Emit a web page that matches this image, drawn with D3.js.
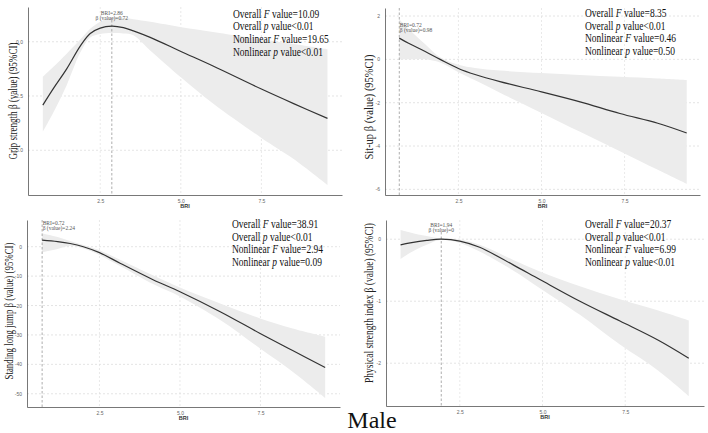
<!DOCTYPE html>
<html>
<head>
<meta charset="utf-8">
<script src="https://cdn.jsdelivr.net/npm/d3@7/dist/d3.min.js"></script>
<style>
  html, body { margin: 0; padding: 0; background: #fff; }
  svg { display: block; }
</style>
</head>
<body>
<svg id="chart" width="708" height="433"></svg>
<script>
// ---------------- DATA ----------------
const xTicks = [2.5, 5.0, 7.5];
const xTickLabels = ["2.5", "5.0", "7.5"];

// Panel 1: Grip strength
const gripBRI   = [0.72, 1.05, 1.46, 1.88, 2.19, 2.5, 2.86, 3.22, 3.53, 4.05, 5.02, 6.0, 7.5, 8.5, 9.55];
const gripFit   = [-2.92, -2.15, -1.25, -0.2, 0.38, 0.63, 0.72, 0.65, 0.5, 0.2, -0.46, -1.12, -2.18, -2.85, -3.53];
const gripUpper = [-1.61, -1.15, -0.55, 0.1, 0.6, 0.92, 1.13, 1.1, 1.04, 0.92, 0.67, 0.45, 0.11, -0.11, -0.35];
const gripLower = [-4.15, -3.25, -2.0, -0.5, 0.2, 0.36, 0.4, 0.38, 0.3, -0.4, -1.66, -2.85, -4.43, -5.4, -6.6];
const gripYTicks = [-5.0, -2.5, 0.0];
const gripYTickLabels = ["-5.0", "-2.5", "0.0"];
const gripStats = [["Overall ", "F", " value=10.09"], ["Overall ", "p", " value<0.01"], ["Nonlinear ", "F", " value=19.65"], ["Nonlinear ", "p", " value<0.01"]];
const gripRef = { bri: 2.86, beta: 0.72, label1: "BRI=2.86", label2: "β (value)=0.72" };

// Panel 2: Sit-up
const situpBRI   = [0.72, 1.0, 1.5, 1.95, 2.5, 3.0, 3.75, 5.0, 6.16, 7.36, 8.5, 9.37];
const situpFit   = [0.98, 0.74, 0.36, 0.0, -0.42, -0.7, -1.03, -1.5, -1.96, -2.5, -2.95, -3.4];
const situpUpper = [1.85, 1.4, 0.7, 0.1, -0.25, -0.4, -0.52, -0.63, -0.72, -0.8, -0.88, -0.95];
const situpLower = [0.0, 0.0, 0.0, -0.15, -0.6, -0.97, -1.54, -2.47, -3.34, -4.24, -5.1, -5.75];
const situpYTicks = [-6, -4, -2, 0, 2];
const situpYTickLabels = ["-6", "-4", "-2", "0", "2"];
const situpStats = [["Overall ", "F", " value=8.35"], ["Overall ", "p", " value<0.01"], ["Nonlinear ", "F", " value=0.46"], ["Nonlinear ", "p", " value=0.50"]];
const situpRef = { bri: 0.72, beta: 0.98, label1: "BRI=0.72", label2: "β (value)=0.98" };

// Panel 3: Standing long jump
const jumpBRI   = [0.72, 1.2, 1.59, 2.0, 2.5, 3.14, 4.18, 5.0, 6.25, 7.49, 8.5, 9.51];
const jumpFit   = [2.24, 1.75, 1.1, 0.0, -2.0, -5.6, -11.3, -15.3, -22.1, -29.5, -35.3, -41.1];
const jumpUpper = [4.5, 3.3, 1.94, 0.6, -1.2, -4.4, -9.8, -13.9, -19.3, -24.4, -27.8, -30.6];
const jumpLower = [-1.9, -0.8, 0.3, -0.6, -2.8, -6.6, -12.8, -16.9, -24.9, -34.6, -42.5, -51.4];
const jumpYTicks = [-50, -40, -30, -20, -10, 0];
const jumpYTickLabels = ["-50", "-40", "-30", "-20", "-10", "0"];
const jumpStats = [["Overall ", "F", " value=38.91"], ["Overall ", "p", " value<0.01"], ["Nonlinear ", "F", " value=2.94"], ["Nonlinear ", "p", " value=0.09"]];
const jumpRef = { bri: 0.72, beta: 2.24, label1: "BRI=0.72", label2: "β (value)=2.24" };

// Panel 4: Physical strength index
const psiBRI   = [0.71, 1.0, 1.5, 1.94, 2.5, 3.1, 4.1, 4.92, 6.13, 7.34, 8.5, 9.42];
const psiFit   = [-0.09, -0.06, -0.02, 0.0, -0.03, -0.13, -0.41, -0.65, -1.0, -1.32, -1.63, -1.92];
const psiUpper = [0.15, 0.11, 0.05, 0.01, -0.005, -0.09, -0.33, -0.52, -0.76, -0.97, -1.15, -1.31];
const psiLower = [-0.32, -0.22, -0.09, -0.01, -0.06, -0.2, -0.5, -0.79, -1.22, -1.7, -2.12, -2.53];
const psiYTicks = [-2, -1, 0];
const psiYTickLabels = ["-2", "-1", "0"];
const psiStats = [["Overall ", "F", " value=20.37"], ["Overall ", "p", " value<0.01"], ["Nonlinear ", "F", " value=6.99"], ["Nonlinear ", "p", " value<0.01"]];
const psiRef = { bri: 1.94, beta: 0, label1: "BRI=1.94", label2: "β (value)=0" };

const yTitles = ["Grip strength β (value) (95%CI)", "Sit-up β (value) (95%CI)", "Standing long jump β (value) (95%CI)", "Physical strength index β (value) (95%CI)"];
const xTitle = "BRI";
const caption = "Male";

// ---------------- LAYOUT ----------------
const panels = [
  { bri: gripBRI, fit: gripFit, up: gripUpper, lo: gripLower, yt: gripYTicks, ytl: gripYTickLabels, stats: gripStats, ref: gripRef, title: yTitles[0],
    L: 28, R: 342, T: 7, B: 195, xd: [0.26, 10.0], yd: [-7.06, 1.6], statX: 233, statY: 17.5, titleX: 17, titleY: 101, titleLen: 117, refAnchor: "middle", refY: 14.5, refTop: 20 },
  { bri: situpBRI, fit: situpFit, up: situpUpper, lo: situpLower, yt: situpYTicks, ytl: situpYTickLabels, stats: situpStats, ref: situpRef, title: yTitles[1],
    L: 385, R: 700, T: 8, B: 195, xd: [0.29, 9.77], yd: [-6.26, 2.37], statX: 585, statY: 17, titleX: 373, titleY: 107, titleLen: 105, refAnchor: "start", refY: 26.5, refTop: 8 },
  { bri: jumpBRI, fit: jumpFit, up: jumpUpper, lo: jumpLower, yt: jumpYTicks, ytl: jumpYTickLabels, stats: jumpStats, ref: jumpRef, title: yTitles[2],
    L: 27, R: 340, T: 220, B: 407, xd: [0.25, 9.97], yd: [-54.5, 9.08], statX: 232, statY: 228, titleX: 12.5, titleY: 311, titleLen: 137, refAnchor: "start", refY: 225, refTop: 220 },
  { bri: psiBRI, fit: psiFit, up: psiUpper, lo: psiLower, yt: psiYTicks, ytl: psiYTickLabels, stats: psiStats, ref: psiRef, title: yTitles[3],
    L: 386, R: 704, T: 220, B: 406, xd: [0.27, 9.88], yd: [-2.69, 0.31], statX: 585, statY: 228, titleX: 373, titleY: 303, titleLen: 160, refAnchor: "middle", refY: 226.5, refTop: 232 }
];

const svg = d3.select("#chart");
const SERIF = "'Liberation Serif', 'Times New Roman', serif";
const SANS = "'Liberation Sans', Arial, sans-serif";
const curve = d3.curveCatmullRom.alpha(0.5);

panels.forEach(p => {
  const x = d3.scaleLinear().domain(p.xd).range([p.L, p.R]);
  const y = d3.scaleLinear().domain(p.yd).range([p.B, p.T]);
  const g = svg.append("g");

  // grid
  g.append("g").selectAll("line").data(p.yt).join("line")
    .attr("x1", p.L).attr("x2", p.R).attr("y1", d => y(d)).attr("y2", d => y(d))
    .attr("stroke", "#d8d8d8").attr("stroke-width", 0.7).attr("stroke-dasharray", "2,2");
  g.append("g").selectAll("line").data(xTicks).join("line")
    .attr("y1", p.T).attr("y2", p.B).attr("x1", d => x(d)).attr("x2", d => x(d))
    .attr("stroke", "#e0e0e0").attr("stroke-width", 0.7).attr("stroke-dasharray", "2,2");

  const pts = p.bri.map((b, i) => ({ b, f: p.fit[i], u: p.up[i], l: p.lo[i] }));

  // band
  g.append("path").datum(pts)
    .attr("d", d3.area().x(d => x(d.b)).y0(d => y(d.l)).y1(d => y(d.u)).curve(curve))
    .attr("fill", "#ececec");

  // ref line
  g.append("line").attr("x1", x(p.ref.bri)).attr("x2", x(p.ref.bri))
    .attr("y1", p.refTop).attr("y2", p.B)
    .attr("stroke", "#999").attr("stroke-width", 0.8).attr("stroke-dasharray", "2.5,2");

  // fit line
  g.append("path").datum(pts)
    .attr("d", d3.line().x(d => x(d.b)).y(d => y(d.f)).curve(curve))
    .attr("fill", "none").attr("stroke", "#333").attr("stroke-width", 1.2);

  // axes
  const xa = d3.axisBottom(x).tickValues(xTicks).tickFormat((d, i) => xTickLabels[i]).tickSize(0).tickSizeOuter(0);
  const ya = d3.axisLeft(y).tickValues(p.yt).tickFormat((d, i) => p.ytl[i]).tickSize(0).tickSizeOuter(0);
  const gx = g.append("g").attr("transform", `translate(0,${p.B})`).call(xa);
  const gy = g.append("g").attr("transform", `translate(${p.L},0)`).call(ya);
  [gx, gy].forEach(a => {
    a.select(".domain").attr("stroke", "#555").attr("stroke-width", 0.8);
    a.selectAll(".tick text").attr("fill", "#666").attr("font-size", 5).attr("font-family", SANS);
  });
  gy.selectAll(".tick text").attr("x", -5);
  gx.selectAll(".tick text").attr("y", 4);

  // x title
  g.append("text").attr("x", (p.L + p.R) / 2).attr("y", p.B + 13)
    .attr("text-anchor", "middle").attr("font-family", SANS).attr("font-weight", "bold")
    .attr("font-size", 5.5).attr("fill", "#333").text(xTitle);

  // y title
  g.append("text")
    .attr("transform", `translate(${p.titleX},${p.titleY}) rotate(-90)`)
    .attr("text-anchor", "middle").attr("font-family", SERIF).attr("font-size", 12)
    .attr("fill", "#222")
    .attr("textLength", p.titleLen).attr("lengthAdjust", "spacingAndGlyphs")
    .text(p.title);

  // ref annotation
  const rx = p.refAnchor === "middle" ? x(p.ref.bri) : x(p.ref.bri) + 0.5;
  [p.ref.label1, p.ref.label2].forEach((t, i) => {
    g.append("text").attr("x", rx).attr("y", p.refY + i * 5.2)
      .attr("text-anchor", p.refAnchor).attr("font-family", SERIF).attr("font-size", 5.5)
      .attr("fill", "#555").text(t);
  });

  // stats text
  p.stats.forEach((s, i) => {
    const t = g.append("text")
      .attr("transform", `translate(${p.statX},${p.statY + i * 12.7}) scale(0.76,1)`)
      .attr("font-family", SERIF).attr("font-size", 12.5).attr("fill", "#111");
    t.append("tspan").text(s[0]);
    t.append("tspan").attr("font-style", "italic").text(s[1]);
    t.append("tspan").text(s[2]);
  });
});

svg.append("text").attr("x", 372).attr("y", 428).attr("text-anchor", "middle")
  .attr("font-family", SERIF).attr("font-size", 24).attr("fill", "#111").text(caption);
</script>
</body>
</html>
